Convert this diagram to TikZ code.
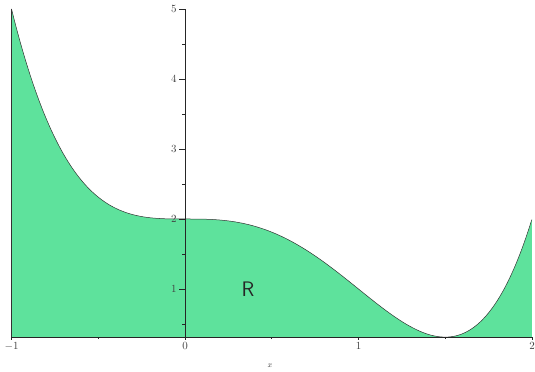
\documentclass[tikz,border=0pt]{standalone}
\usetikzlibrary{calc}
\definecolor{regiongreen}{RGB}{94,226,156}
\tikzset{
  axisline/.style={
    line width=0.6pt,
    black!85
  },
  curveline/.style={
    line width=0.5pt,
    black!80
  },
  ticklabel/.style={
    font=\fontsize{11}{13}\selectfont,
    text=black!75,
    inner sep=2pt
  },
  regionlabel/.style={
    font=\sffamily\fontsize{21}{25}\selectfont,
    text=black!85
  }
}

\begin{document}
\begin{tikzpicture}[x=173.5pt,y=70pt]
  \useasboundingbox (-1.0663,-0.1857) rectangle (2.0173,5.1286);
  % shaded region under the curve
  \fill[regiongreen] (-1,0.3125) -- plot[domain=-1:2,samples=150,smooth] (\x,{(\x)^4-2*(\x)^3+2}) -- (2,0.3125) -- cycle;
  \draw[curveline] plot[domain=-1:2,samples=150,smooth] (\x,{(\x)^4-2*(\x)^3+2});
  \draw[curveline] (-1,0.3125) -- (-1,5);
  % axes
  \coordinate (xl) at (-1,0.3125);
  \coordinate (xr) at (2,0.3125);
  \coordinate (yb) at (0,0.3125);
  \coordinate (yt) at (0,5);
  \draw[axisline] (xl) -- (xr);
  \draw[axisline] (yb) -- (yt);
  \foreach \y in {1,...,5}{
      \draw[axisline] (0,\y) -- ++(-6pt,0) node[ticklabel,left] (ylab\y) {$\y$};
      \draw[axisline] (0,\y-0.5) -- ++(-3pt,0);
    }
  \foreach \x in {-1,0,1,2}{
      \draw[axisline] (\x,0.3125) -- ++(0,-3pt) node[ticklabel,below] (xlab\x) {$\x$};
    }
  \foreach \x in {-0.5,0.5,1.5}{
      \draw[axisline] (\x,0.3125) -- ++(0,-2pt);
    }
  \node[ticklabel,font=\footnotesize] (xname) at (0.49,-0.1) {$x$};
  \node[regionlabel] (rlab) at (0.363,1) {R};
\end{tikzpicture}
\end{document}
